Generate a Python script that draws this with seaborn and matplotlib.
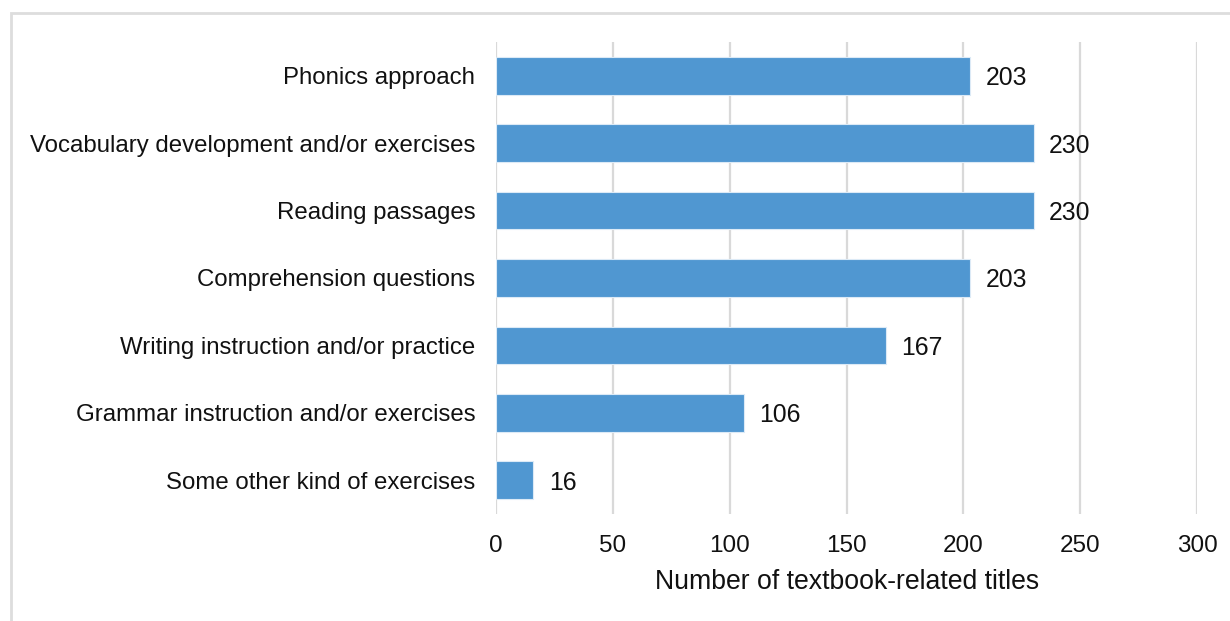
import matplotlib
matplotlib.use("Agg")
import matplotlib.pyplot as plt
from matplotlib.patches import Rectangle
import seaborn as sns
import pandas as pd

categories = [
    "Phonics approach",
    "Vocabulary development and/or exercises",
    "Reading passages",
    "Comprehension questions",
    "Writing instruction and/or practice",
    "Grammar instruction and/or exercises",
    "Some other kind of exercises",
]
counts = [203, 230, 230, 203, 167, 106, 16]
x_ticks = [0, 50, 100, 150, 200, 250, 300]

sns.set_theme(style="white")
plt.rcParams["font.family"] = ["Liberation Sans", "DejaVu Sans"]

df = pd.DataFrame({"category": categories, "count": counts})

fig = plt.figure(figsize=(12.3, 6.21), dpi=100)
ax = fig.add_axes([0.4033, 0.1723, 0.5700, 0.7601])

sns.barplot(data=df, y="category", x="count", orient="h", color="#5097D1",
            width=0.56, saturation=1, edgecolor="#DCEAF6", linewidth=0.8, ax=ax)

ax.set_xlim(0, 300)
ax.set_ylim(6.5, -0.5)
ax.set_xticks(x_ticks)
ax.set_xticklabels([str(t) for t in x_ticks], fontsize=17.5, color="#111111")
ax.tick_params(axis="y", labelsize=17.3, colors="#111111", length=0, pad=15)
ax.tick_params(axis="x", length=0, pad=15)
ax.set_ylabel("")
ax.set_xlabel("Number of textbook-related titles", fontsize=19.2, color="#111111", labelpad=8.5)

ax.xaxis.grid(True, color="#D9D9D9", linewidth=1.6)
ax.set_axisbelow(True)
for s in ax.spines.values():
    s.set_visible(False)

for i, v in enumerate(counts):
    ax.annotate(str(v), xy=(v, i), xytext=(11, 0), textcoords="offset points",
                ha="left", va="center_baseline", fontsize=17.8, color="#111111")

# light frame around the figure
fig.patches.append(Rectangle((11 / 1230, -0.1), 1.2, 1 - 13 / 621 + 0.1,
                             transform=fig.transFigure, fill=False,
                             edgecolor="#DDDDDD", linewidth=2))

fig.savefig("out.png", dpi=100)
